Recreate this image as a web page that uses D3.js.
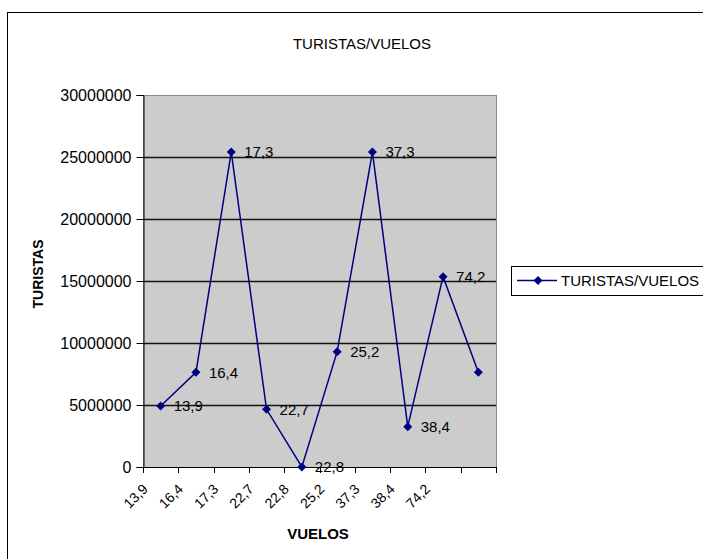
<!DOCTYPE html>
<html>
<head>
<meta charset="utf-8">
<script src="https://cdn.jsdelivr.net/npm/d3@7"></script>
<style>
  html, body { margin: 0; padding: 0; background: #fff; }
  svg { display: block; font-family: Arial, "Liberation Sans", sans-serif; }
</style>
</head>
<body>
<svg id="chart" width="703" height="559"></svg>
<script>
// Flight categories (the last slot carries no label)
const vuelos = ["13,9", "16,4", "17,3", "22,7", "22,8", "25,2", "37,3", "38,4", "74,2", ""];
// Tourist counts per category
const turistas = [4920000, 7640000, 25400000, 4650000, 0, 9300000, 25400000, 3250000, 15350000, 7640000];
// Value labels shown beside the points
const pointLabels = ["13,9", "16,4", "17,3", "22,7", "22,8", "25,2", "37,3", "38,4", "74,2", ""];
const yTicks = [0, 5000000, 10000000, 15000000, 20000000, 25000000, 30000000];

const svg = d3.select("#chart");
const plot = { left: 143, top: 95, right: 496, bottom: 467 };
const FS = 15;

// Outer chart frame
svg.append("rect")
  .attr("x", 7.5).attr("y", 12.5).attr("width", 720).attr("height", 560)
  .attr("fill", "#fff").attr("stroke", "#000").attr("stroke-width", 1);

const x = d3.scaleBand()
  .domain(d3.range(vuelos.length))
  .range([plot.left, plot.right])
  .padding(0);

const y = d3.scaleLinear()
  .domain([0, 30000000])
  .range([plot.bottom, plot.top]);

// Plot area
svg.append("rect")
  .attr("x", plot.left + 0.5).attr("y", plot.top + 0.5)
  .attr("width", plot.right - plot.left).attr("height", plot.bottom - plot.top)
  .attr("fill", "#cccccc").attr("stroke", "#8a8a8a").attr("stroke-width", 1);

// Horizontal gridlines
svg.append("g")
  .selectAll("line")
  .data(yTicks.filter(d => d > 0 && d < 30000000))
  .join("line")
  .attr("x1", plot.left).attr("x2", plot.right)
  .attr("y1", d => Math.round(y(d)) + 0.5).attr("y2", d => Math.round(y(d)) + 0.5)
  .attr("stroke", "#111").attr("stroke-width", 1.3);

// Y axis
const yAxis = svg.append("g")
  .attr("transform", `translate(${plot.left + 0.5},0)`)
  .call(d3.axisLeft(y).tickValues(yTicks).tickFormat(d3.format("d")).tickSize(7).tickPadding(5));
yAxis.select(".domain").attr("stroke", "#000");
yAxis.selectAll(".tick line").attr("stroke", "#000");
yAxis.selectAll("text").attr("font-size", 16).attr("fill", "#000")
  .attr("font-family", "Arial, 'Liberation Sans', sans-serif");

// X axis: ticks sit on band boundaries
const xBoundaries = d3.range(vuelos.length + 1).map(i => plot.left + i * x.bandwidth());
const xAxisG = svg.append("g");
xAxisG.append("line")
  .attr("x1", plot.left).attr("x2", plot.right)
  .attr("y1", plot.bottom + 0.5).attr("y2", plot.bottom + 0.5)
  .attr("stroke", "#000");
xAxisG.selectAll("line.tk")
  .data(xBoundaries)
  .join("line").attr("class", "tk")
  .attr("x1", d => Math.round(d) + 0.5).attr("x2", d => Math.round(d) + 0.5)
  .attr("y1", plot.bottom).attr("y2", plot.bottom + 6)
  .attr("stroke", "#000");
xAxisG.selectAll("text")
  .data(vuelos)
  .join("text")
  .attr("transform", (d, i) => `translate(${x(i) + x.bandwidth() / 2 - 12},${plot.bottom + 23}) rotate(-45)`)
  .attr("text-anchor", "end")
  .attr("font-size", FS - 1)
  .attr("fill", "#000")
  .text(d => d);

// Series line
const cx = i => x(i) + x.bandwidth() / 2;
svg.append("path")
  .datum(turistas)
  .attr("d", d3.line().x((d, i) => cx(i)).y(d => y(d)))
  .attr("fill", "none")
  .attr("stroke", "#000080")
  .attr("stroke-width", 1.5);

// Diamond markers
const diamond = d3.symbol().type(d3.symbolDiamond2).size(52);
svg.append("g")
  .selectAll("path")
  .data(turistas)
  .join("path")
  .attr("transform", (d, i) => `translate(${cx(i)},${y(d)})`)
  .attr("d", diamond)
  .attr("fill", "#000080");

// Value labels
svg.append("g")
  .selectAll("text")
  .data(turistas)
  .join("text")
  .attr("x", (d, i) => cx(i) + 13)
  .attr("y", d => y(d))
  .attr("dy", "0.35em")
  .attr("font-size", FS)
  .attr("fill", "#000")
  .text((d, i) => pointLabels[i]);

// Title and axis titles
svg.append("text")
  .attr("x", 362).attr("y", 49)
  .attr("text-anchor", "middle")
  .attr("font-size", FS)
  .text("TURISTAS/VUELOS");

svg.append("text")
  .attr("transform", "translate(43,274) rotate(-90)")
  .attr("text-anchor", "middle")
  .attr("font-size", 14)
  .attr("font-weight", "bold")
  .text("TURISTAS");

svg.append("text")
  .attr("x", 318).attr("y", 539)
  .attr("text-anchor", "middle")
  .attr("font-size", FS)
  .attr("font-weight", "bold")
  .text("VUELOS");

// Legend
const lg = svg.append("g").attr("transform", "translate(511,266)");
lg.append("rect")
  .attr("x", 0.5).attr("y", 0.5).attr("width", 200).attr("height", 29)
  .attr("fill", "#fff").attr("stroke", "#000");
lg.append("line")
  .attr("x1", 6).attr("x2", 46).attr("y1", 14.5).attr("y2", 14.5)
  .attr("stroke", "#000080").attr("stroke-width", 1.5);
lg.append("path")
  .attr("transform", "translate(27,14.5)")
  .attr("d", diamond)
  .attr("fill", "#000080");
lg.append("text")
  .attr("x", 50).attr("y", 14.5).attr("dy", "0.35em")
  .attr("font-size", FS)
  .text("TURISTAS/VUELOS");
</script>
</body>
</html>
